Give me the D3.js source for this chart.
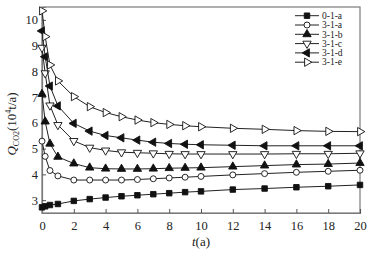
<!DOCTYPE html>
<html>
<head>
<meta charset="utf-8">
<script src="https://cdn.jsdelivr.net/npm/d3@7"></script>
<style>
  body { margin: 0; background: #fff; }
  text { font-family: "Liberation Serif", "DejaVu Serif", serif; fill: #222; }
</style>
</head>
<body>
<script>
// time axis (a)
const years = [0, 0.2, 0.5, 1, 2, 3, 4, 5, 6, 7, 8, 9, 10, 12, 14, 16, 18, 20]

// Q_CO2 values (10^4 t/a), one array per scheme
const s01a = [2.72, 2.76, 2.81, 2.85, 2.97, 3.04, 3.10, 3.15, 3.19, 3.23, 3.27, 3.31, 3.34, 3.41, 3.45, 3.50, 3.54, 3.59]
const s31a = [5.29, 4.70, 4.15, 3.94, 3.78, 3.78, 3.78, 3.78, 3.80, 3.83, 3.86, 3.89, 3.92, 3.98, 4.03, 4.08, 4.12, 4.16]
const s31b = [7.12, 6.05, 5.19, 4.68, 4.42, 4.26, 4.22, 4.21, 4.21, 4.22, 4.24, 4.25, 4.26, 4.30, 4.34, 4.38, 4.40, 4.44]
const s31c = [8.92, 7.93, 6.68, 5.92, 5.30, 5.04, 4.93, 4.86, 4.84, 4.82, 4.80, 4.79, 4.79, 4.79, 4.79, 4.80, 4.80, 4.82]
const s31d = [9.57, 8.57, 7.43, 6.66, 5.98, 5.68, 5.51, 5.42, 5.33, 5.25, 5.20, 5.17, 5.15, 5.13, 5.11, 5.11, 5.11, 5.11]
const s31e = [10.35, 9.35, 8.25, 7.63, 7.02, 6.63, 6.40, 6.24, 6.11, 6.01, 5.94, 5.89, 5.85, 5.79, 5.75, 5.70, 5.67, 5.66]

const seriesNames = ['0-1-a', '3-1-a', '3-1-b', '3-1-c', '3-1-d', '3-1-e']
const seriesValues = [s01a, s31a, s31b, s31c, s31d, s31e]
const markers = ['square', 'circle', 'up', 'down', 'left', 'right']

const xTicks = [0, 2, 4, 6, 8, 10, 12, 14, 16, 18, 20]
const yTicks = [3, 4, 5, 6, 7, 8, 9, 10]

const W = 374, H = 255
const m = {left: 42, right: 14, top: 7, bottom: 42}

const svg = d3.select('body').append('svg')
    .attr('width', W)
    .attr('height', H)

const x = d3.scaleLinear().domain([0, 20]).range([m.left, W - m.right])
const y = d3.scaleLinear().domain([2.5, 10.5]).range([H - m.bottom, m.top])

// frame
svg.append('rect')
    .attr('x', x(0)).attr('y', y(10.5))
    .attr('width', x(20) - x(0)).attr('height', y(2.5) - y(10.5))
    .attr('fill', 'none').attr('stroke', '#7a7a7a').attr('stroke-width', 1.2)

const xAxis = svg.append('g')
    .attr('transform', `translate(0,${y(2.5)})`)
    .call(d3.axisBottom(x).tickValues(xTicks).tickSize(-4).tickPadding(8))
const yAxis = svg.append('g')
    .attr('transform', `translate(${x(0)},0)`)
    .call(d3.axisLeft(y).tickValues(yTicks).tickSize(-4).tickPadding(4))

;[xAxis, yAxis].forEach(g => {
    g.select('.domain').attr('stroke', '#7a7a7a').attr('stroke-width', 1.2)
    g.selectAll('.tick line').attr('stroke', '#555')
    g.selectAll('.tick text')
        .attr('font-family', '"Liberation Serif", serif')
        .attr('font-size', 12.5)
        .attr('fill', '#222')
})

// axis titles
const xt = svg.append('text')
    .attr('x', 201).attr('y', 246)
    .attr('text-anchor', 'middle')
    .attr('font-size', 13)
xt.append('tspan').attr('font-style', 'italic').text('t')
xt.append('tspan').text('(a)')

const yt = svg.append('text')
    .attr('transform', 'translate(16,124) rotate(-90)')
    .attr('text-anchor', 'middle')
    .attr('font-size', 13)
yt.append('tspan').attr('font-style', 'italic').text('Q')
yt.append('tspan').attr('font-size', 8).attr('dy', 3).text('CO2')
yt.append('tspan').attr('dy', -3).text('(10')
yt.append('tspan').attr('font-size', 8).attr('dy', -5).text('4')
yt.append('tspan').attr('dy', 5).text('t/a)')

const sym = {
    square: d3.symbol().type(d3.symbolSquare).size(30),
    circle: d3.symbol().type(d3.symbolCircle).size(28),
    tri: d3.symbol().type(d3.symbolTriangle).size(30)
}
const rot = {up: 0, down: 180, left: -90, right: 90}
const filled = {square: true, circle: false, up: true, down: false, left: true, right: false}

function drawMarker(g, kind) {
    let path = kind === 'square' ? sym.square() : kind === 'circle' ? sym.circle() : sym.tri()
    g.append('path')
        .attr('d', path)
        .attr('transform', rot[kind] !== undefined ? `rotate(${rot[kind]})` : null)
        .attr('fill', filled[kind] ? '#111' : '#fff')
        .attr('stroke', '#111')
        .attr('stroke-width', 0.9)
}

const line = d3.line().x(d => x(d[0])).y(d => y(d[1]))

seriesValues.forEach((vals, i) => {
    const pts = years.map((t, j) => [t, vals[j]])
    svg.append('path')
        .attr('d', line(pts))
        .attr('fill', 'none')
        .attr('stroke', '#222')
        .attr('stroke-width', 1)
    svg.append('g').selectAll('g')
        .data(pts).enter()
        .append('g')
        .attr('transform', d => `translate(${x(d[0])},${y(d[1])})`)
        .each(function() { drawMarker(d3.select(this), markers[i]) })
})

// legend
const leg = svg.append('g')
seriesNames.forEach((name, i) => {
    const ly = 15.7 + i * 9.3
    const row = leg.append('g').attr('transform', `translate(0,${ly})`)
    row.append('line')
        .attr('x1', 295).attr('x2', 319)
        .attr('stroke', '#222').attr('stroke-width', 1)
    const mk = row.append('g').attr('transform', 'translate(307,0)')
    drawMarker(mk, markers[i])
    row.append('text')
        .attr('x', 322).attr('y', 3.2)
        .attr('font-size', 9.5)
        .text(name)
})
</script>
</body>
</html>
